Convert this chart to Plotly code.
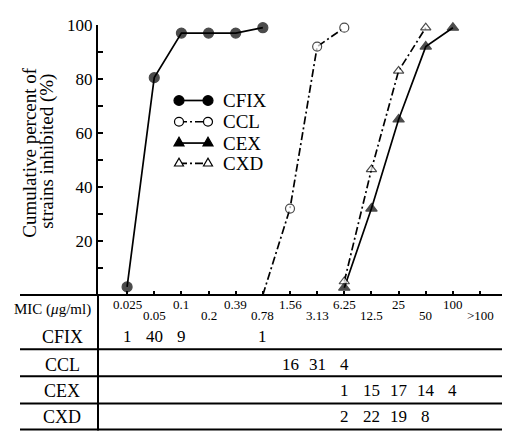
import plotly.graph_objects as go

# ---------------- data ----------------
mic_labels = ["0.025", "0.05", "0.1", "0.2", "0.39", "0.78", "1.56",
              "3.13", "6.25", "12.5", "25", "50", "100", ">100"]

cfix_x = ["0.025", "0.05", "0.1", "0.2", "0.39", "0.78"]
cfix_y = [3, 80.5, 97, 97, 97, 99]

ccl_x = ["0.78", "1.56", "3.13", "6.25"]
ccl_y = [0, 32, 92, 99]

cex_x = ["6.25", "12.5", "25", "50", "100"]
cex_y = [2.7, 32, 65, 92, 99]

cxd_x = ["6.25", "12.5", "25", "50"]
cxd_y = [5, 46.5, 83, 99]

series_names = ["CFIX", "CCL", "CEX", "CXD"]

table_rows = ["CFIX", "CCL", "CEX", "CXD"]
cfix_counts = {"0.025": 1, "0.05": 40, "0.1": 9, "0.78": 1}
ccl_counts = {"1.56": 16, "3.13": 31, "6.25": 4}
cex_counts = {"6.25": 1, "12.5": 15, "25": 17, "50": 14, "100": 4}
cxd_counts = {"6.25": 2, "12.5": 22, "25": 19, "50": 8}
row_counts = [cfix_counts, ccl_counts, cex_counts, cxd_counts]

# ---------------- layout geometry ----------------
# the page body has an 8px margin, so the figure is made 8px smaller
OFF = 8
W, H = 510 - OFF, 437 - OFF
PLOT_LEFT, PLOT_RIGHT, PLOT_TOP, PLOT_BOTTOM = 98, 500, 16, 295  # page px
L = PLOT_LEFT - OFF
T = PLOT_TOP - OFF
R = W - (PLOT_RIGHT - OFF)
B = H - (PLOT_BOTTOM - OFF)
PW = PLOT_RIGHT - PLOT_LEFT
PH = PLOT_BOTTOM - PLOT_TOP
SERIF = "Liberation Serif"


def px_x(p):
    return (p - PLOT_LEFT) / PW


def px_y(p):
    return (PLOT_BOTTOM - p) / PH


fig = go.Figure()

dash_dot = "8px,3px,2px,3px"

styles = [
    dict(dash="solid", symbol="circle", fill="black", size=10),
    dict(dash=dash_dot, symbol="circle", fill="white", size=9),
    dict(dash="solid", symbol="triangle-up", fill="black", size=10),
    dict(dash=dash_dot, symbol="triangle-up", fill="white", size=9),
]
series = [(cfix_x, cfix_y), (ccl_x, ccl_y), (cex_x, cex_y), (cxd_x, cxd_y)]

for name, (xs, ys), st in zip(series_names, series, styles):
    sizes = [st["size"]] * len(xs)
    if name == "CCL":
        sizes[0] = 0  # the CCL line starts at 0 without a marker
    fig.add_trace(go.Scatter(
        x=xs, y=ys, name=name, mode="lines+markers", showlegend=False,
        line=dict(color="black", width=1.7, dash=st["dash"]),
        marker=dict(symbol=st["symbol"], size=sizes, color=st["fill"],
                    line=dict(color="black", width=1.2)),
        cliponaxis=False))

step = 27.15
first_px = 127.1
x_lo = (PLOT_LEFT - first_px) / step
x_hi = (PLOT_RIGHT - first_px) / step

fig.update_xaxes(
    type="category", categoryorder="array", categoryarray=mic_labels,
    range=[x_lo, x_hi], showline=False, showgrid=False, zeroline=False,
    ticks="inside", ticklen=4, tickwidth=1.5, tickcolor="black",
    showticklabels=False)

fig.update_yaxes(
    range=[0, 100], showline=True, linewidth=2, linecolor="black",
    showgrid=False, zeroline=False,
    tickmode="array", tickvals=[20, 40, 60, 80, 100],
    ticks="inside", ticklen=5, tickwidth=1.5, tickcolor="black",
    ticklabeloverflow="allow",
    tickfont=dict(family=SERIF, size=17, color="black"),
    minor=dict(tickvals=[10, 30, 50, 70, 90], ticks="inside", ticklen=5,
               tickwidth=1.5, tickcolor="black"))

shapes = []
# x-axis line extended to the left
shapes.append(dict(type="line", xref="paper", yref="paper",
                   x0=px_x(20), x1=px_x(504), y0=0, y1=0,
                   line=dict(color="black", width=2)))
# table vertical divider
shapes.append(dict(type="line", xref="paper", yref="paper",
                   x0=0, x1=0, y0=0, y1=px_y(435),
                   line=dict(color="black", width=2)))
# table horizontal lines
for p in [351, 379, 407, 434]:
    shapes.append(dict(type="line", xref="paper", yref="paper",
                       x0=px_x(20), x1=px_x(504), y0=px_y(p), y1=px_y(p),
                       line=dict(color="black", width=2)))

ann = []

# ---------------- legend (glyph with a marker at each end) ----------------
leg_rows = [94, 116, 138, 159]
leg_x0, leg_x1, leg_text = 179, 208, 221


def marker_shape(cx, cy, st):
    r = st["size"] / 2.0
    fill = st["fill"]
    if st["symbol"] == "circle":
        return dict(type="circle", xref="paper", yref="paper",
                    x0=px_x(cx - r), x1=px_x(cx + r),
                    y0=px_y(cy + r), y1=px_y(cy - r),
                    fillcolor=fill, line=dict(color="black", width=1.2))
    h = r * 1.8
    path = "M {} {} L {} {} L {} {} Z".format(
        px_x(cx - r), px_y(cy + h / 3), px_x(cx + r), px_y(cy + h / 3),
        px_x(cx), px_y(cy - 2 * h / 3))
    return dict(type="path", xref="paper", yref="paper", path=path,
                fillcolor=fill, line=dict(color="black", width=1.2))


for name, st, yp in zip(series_names, styles, leg_rows):
    shapes.append(dict(type="line", xref="paper", yref="paper",
                       x0=px_x(leg_x0), x1=px_x(leg_x1),
                       y0=px_y(yp), y1=px_y(yp),
                       line=dict(color="black", width=1.7, dash=st["dash"])))
    shapes.append(marker_shape(leg_x0, yp, st))
    shapes.append(marker_shape(leg_x1, yp, st))
    ann.append(dict(text=name, xref="paper", yref="paper",
                    x=px_x(leg_text), y=px_y(yp), xanchor="left",
                    yanchor="middle", showarrow=False,
                    font=dict(family=SERIF, size=19, color="black")))

# y-axis title (two centred lines)
ann.append(dict(text="Cumulative percent of", textangle=-90,
                xref="paper", yref="paper", x=px_x(30), y=px_y(148),
                xanchor="center", yanchor="middle", showarrow=False,
                font=dict(family=SERIF, size=19, color="black")))
ann.append(dict(text="strains inhibited (%)", textangle=-90,
                xref="paper", yref="paper", x=px_x(47), y=px_y(147),
                xanchor="center", yanchor="middle", showarrow=False,
                font=dict(family=SERIF, size=19, color="black")))

# header row
ann.append(dict(text="MIC (<i>μ</i>g/ml)", xref="paper", yref="paper",
                x=px_x(52), y=px_y(310), xanchor="center", yanchor="middle",
                showarrow=False, font=dict(family=SERIF, size=15, color="black")))
for i, lab in enumerate(mic_labels):
    ypix = 305 if i % 2 == 0 else 316
    ann.append(dict(text=lab, xref="x", yref="paper", x=i, y=px_y(ypix),
                    xanchor="center", yanchor="middle", showarrow=False,
                    font=dict(family=SERIF, size=13, color="black")))

# table rows
row_ypix = [338, 367, 394, 421]
for name, counts, yp in zip(table_rows, row_counts, row_ypix):
    ann.append(dict(text=name, xref="paper", yref="paper",
                    x=px_x(62), y=px_y(yp), xanchor="center", yanchor="middle",
                    showarrow=False, font=dict(family=SERIF, size=18, color="black")))
    for lab, v in counts.items():
        ann.append(dict(text=str(v), xref="x", yref="paper",
                        x=mic_labels.index(lab), y=px_y(yp),
                        xanchor="center", yanchor="middle", showarrow=False,
                        font=dict(family=SERIF, size=17, color="black")))

fig.update_layout(
    width=W, height=H,
    margin=dict(l=L, r=R, t=T, b=B),
    paper_bgcolor="white", plot_bgcolor="white",
    showlegend=False,
    shapes=shapes, annotations=ann)

fig.write_html("out.html")
